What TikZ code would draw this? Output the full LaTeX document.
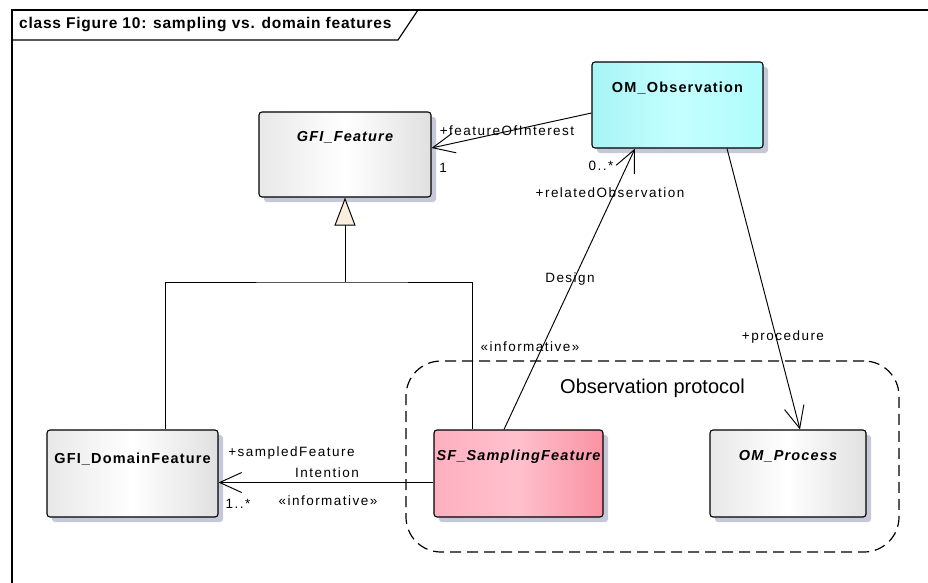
\documentclass[tikz,border=0pt]{standalone}
\usepackage{fontspec}
\setmainfont{Liberation Sans}
\newfontfamily\lblfont[LetterSpace=11]{Liberation Sans}
\newfontfamily\boxfont[LetterSpace=8]{Liberation Sans}
\newfontfamily\ttlfont[LetterSpace=5]{Liberation Sans}
\usetikzlibrary{arrows.meta,shadows,calc}
\definecolor{shadowc}{RGB}{196,200,216}
\definecolor{creamc}{RGB}{252,238,222}
\definecolor{cyanL}{RGB}{168,244,246}
\definecolor{cyanM}{RGB}{196,255,255}
\definecolor{cyanR}{RGB}{176,252,252}
\definecolor{pinkL}{RGB}{255,176,192}
\definecolor{pinkM}{RGB}{255,192,204}
\definecolor{pinkR}{RGB}{250,146,163}
\definecolor{grayL}{RGB}{232,232,232}
\definecolor{grayR}{RGB}{224,224,224}
\begin{document}
\begin{tikzpicture}[x=1pt,y=-1pt,
  umlbox/.style={draw=black, line width=1.1pt, rounded corners=3pt,
    inner xsep=0pt, inner ysep=0pt, align=center,
    font=\boxfont\bfseries\fontsize{14.5}{16}\selectfont,
    drop shadow={shadow xshift=5pt, shadow yshift=-5pt, fill=shadowc, opacity=1}},
  graybox/.style={umlbox, left color=grayL, right color=grayR, middle color=white},
  cyanbox/.style={umlbox, left color=cyanL, right color=cyanR, middle color=cyanM},
  pinkbox/.style={umlbox, left color=pinkL, right color=pinkR, middle color=pinkM},
  lbl/.style={inner sep=0pt, font=\lblfont\fontsize{13.5}{15}\selectfont},
  assoc/.style={draw, line width=0.95pt, line join=round,
    -{Straight Barb[length=22pt,width=20pt,line width=0.95pt]}},
  genline/.style={draw, line width=0.95pt},
  frameline/.style={draw, line width=1.2pt}
]
\useasboundingbox (0,0) rectangle (928,583);
\fill[white] (0,0) rectangle (928,583);

% frame
\draw[frameline] (12,583) -- (12,10) -- (928,10);
\draw[frameline] (12,40) -- (398,40) -- (418,10);
\node[anchor=west, inner sep=0pt, font=\ttlfont\bfseries\fontsize{15.5}{17}\selectfont] (title) at (19,25) {class Figure 10: sampling vs. domain features};

% boundary
\node[draw, line width=1.2pt, dash pattern=on 11pt off 6pt, rounded corners=35pt,
  minimum width=493pt, inner xsep=0pt, inner ysep=0pt, text height=32pt, text depth=159pt,
  font=\fontsize{20}{22}\selectfont] (proto) at (652.5,456.5) {Observation protocol};

% classes
\node[graybox, minimum width=172pt, text height=29pt, text depth=56pt] (feat) at (345,154.5) {\itshape GFI\_Feature};
\node[cyanbox, minimum width=171pt, text height=31pt, text depth=55pt] (obs) at (677.5,105) {OM\_Observation};
\node[graybox, minimum width=171pt, text height=33pt, text depth=54pt] (dom) at (132.5,473.5) {GFI\_DomainFeature};
\node[pinkbox, minimum width=169pt, text height=30pt, text depth=57pt] (sf) at (518.5,473.5) {\itshape SF\_SamplingFeature};
\node[graybox, minimum width=156pt, text height=30pt, text depth=57pt] (proc) at (788,473.5) {\itshape OM\_Process};

% generalization
\coordinate (j) at (345,282);
\draw[genline] ([xshift=32.5pt]dom.north) |- (j) -| ([xshift=-46.5pt]sf.north);
\draw[genline, -{Triangle[length=28pt,width=21pt,fill=creamc]}] (j) -- (feat.south);
\node[lbl] (inf1) at (530,347) {«informative»};

% featureOfInterest
\draw[assoc] (obs.west |- 0,113) -- (feat.east |- 0,148);
\node[lbl] (foi) at (507,131) {+featureOfInterest};
\node[lbl] (one) at (443,168) {1};

% Design
\draw[assoc] ([xshift=-14.5pt]sf.north) -- ([xshift=-42.5pt]obs.south);
\node[lbl] (relobs) at (610,193) {+relatedObservation};
\node[lbl] (zm) at (601,166) {0..*};
\node[lbl] (design) at (570,279) {Design};

% procedure
\draw[assoc] ([xshift=49.5pt]obs.south) -- ([xshift=12pt]proc.north);
\node[lbl] (procl) at (783,337) {+procedure};

% Intention
\draw[assoc] (sf.west |- 0,482.5) -- (dom.east |- 0,482.5);
\node[lbl] (sampf) at (291.5,453) {+sampledFeature};
\node[lbl] (intent) at (327,473) {Intention};
\node[lbl] (inf2) at (328,501) {«informative»};
\node[lbl] (onem) at (238,504) {1..*};
\end{tikzpicture}
\end{document}
